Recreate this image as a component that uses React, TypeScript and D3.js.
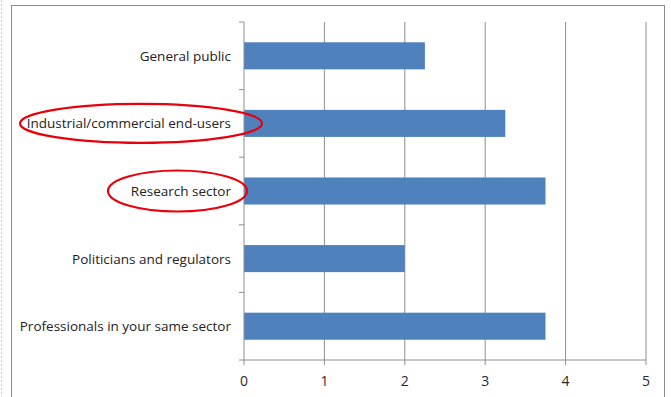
import React from "react";
import * as d3 from "d3";

const categories = [
  "General public",
  "Industrial/commercial end-users",
  "Research sector",
  "Politicians and regulators",
  "Professionals in your same sector",
];
const values = [2.25, 3.25, 3.75, 2, 3.75];
const xTicks = [0, 1, 2, 3, 4, 5];
const highlighted = ["Industrial/commercial end-users", "Research sector"];

const W = 671;
const H = 397;
const left = 244;
const right = 646;
const top = 22;
const bottom = 360;

export default function App() {
  const x = d3.scaleLinear().domain([0, 5]).range([left, right]);
  const y = d3
    .scaleBand<string>()
    .domain(categories)
    .range([top, bottom])
    .paddingInner(0.6)
    .paddingOuter(0.3);
  const step = (bottom - top) / categories.length;
  const boundaries = d3.range(categories.length + 1).map((i) => top + i * step);
  const font = "'Open Sans', 'Noto Sans', sans-serif";

  const ellipses = [
    { cx: 141, rx: 121, ry: 19.5 },
    { cx: 177.5, rx: 69.5, ry: 20.5 },
  ];

  return (
    <svg
      width={W}
      height={H}
      style={{ position: "fixed", left: 0, top: 0, background: "#fff" }}
      fontFamily={font}
    >
      <rect x={0} y={0} width={W} height={H} fill="#fff" />
      <line x1={1.5} y1={0} x2={1.5} y2={H} stroke="#d0d0d0" strokeDasharray="2,2" />
      <rect x={11.5} y={5.5} width={653} height={H} fill="none" stroke="#8c8c8c" strokeWidth={1} />
      {/* gridlines */}
      {xTicks.slice(1).map((t) => (
        <line key={t} x1={x(t)} x2={x(t)} y1={top} y2={bottom} stroke="#8e8e8e" strokeWidth={1} />
      ))}
      {/* bars */}
      {categories.map((c, i) => (
        <rect
          key={c}
          x={x(0)}
          y={y(c)!}
          width={x(values[i]) - x(0)}
          height={y.bandwidth()}
          fill="#4f81bd"
        />
      ))}
      {/* y axis */}
      <line x1={x(0)} x2={x(0)} y1={top} y2={bottom} stroke="#8e8e8e" />
      {boundaries.map((b, i) => (
        <line key={i} x1={x(0) - 5} x2={x(0)} y1={b} y2={b} stroke="#8e8e8e" />
      ))}
      {/* x axis */}
      <line x1={x(0)} x2={x(5)} y1={bottom} y2={bottom} stroke="#8e8e8e" />
      {xTicks.map((t) => (
        <g key={t}>
          <line x1={x(t)} x2={x(t)} y1={bottom} y2={bottom + 5} stroke="#8e8e8e" />
          <text x={x(t)} y={380} textAnchor="middle" dominantBaseline="central" fontSize={14} fill="#2a2a2a">
            {t}
          </text>
        </g>
      ))}
      {/* category labels */}
      {categories.map((c) => (
        <text
          key={c}
          x={231}
          y={y(c)! + y.bandwidth() / 2}
          textAnchor="end"
          dominantBaseline="central"
          fontSize={13.5}
          fill="#222"
        >
          {c}
        </text>
      ))}
      {/* red ellipses */}
      {highlighted.map((c, i) => (
        <ellipse
          key={c}
          cx={ellipses[i].cx}
          cy={y(c)! + y.bandwidth() / 2}
          rx={ellipses[i].rx}
          ry={ellipses[i].ry}
          fill="none"
          stroke="#e8000b"
          strokeWidth={2.2}
        />
      ))}
    </svg>
  );
}
